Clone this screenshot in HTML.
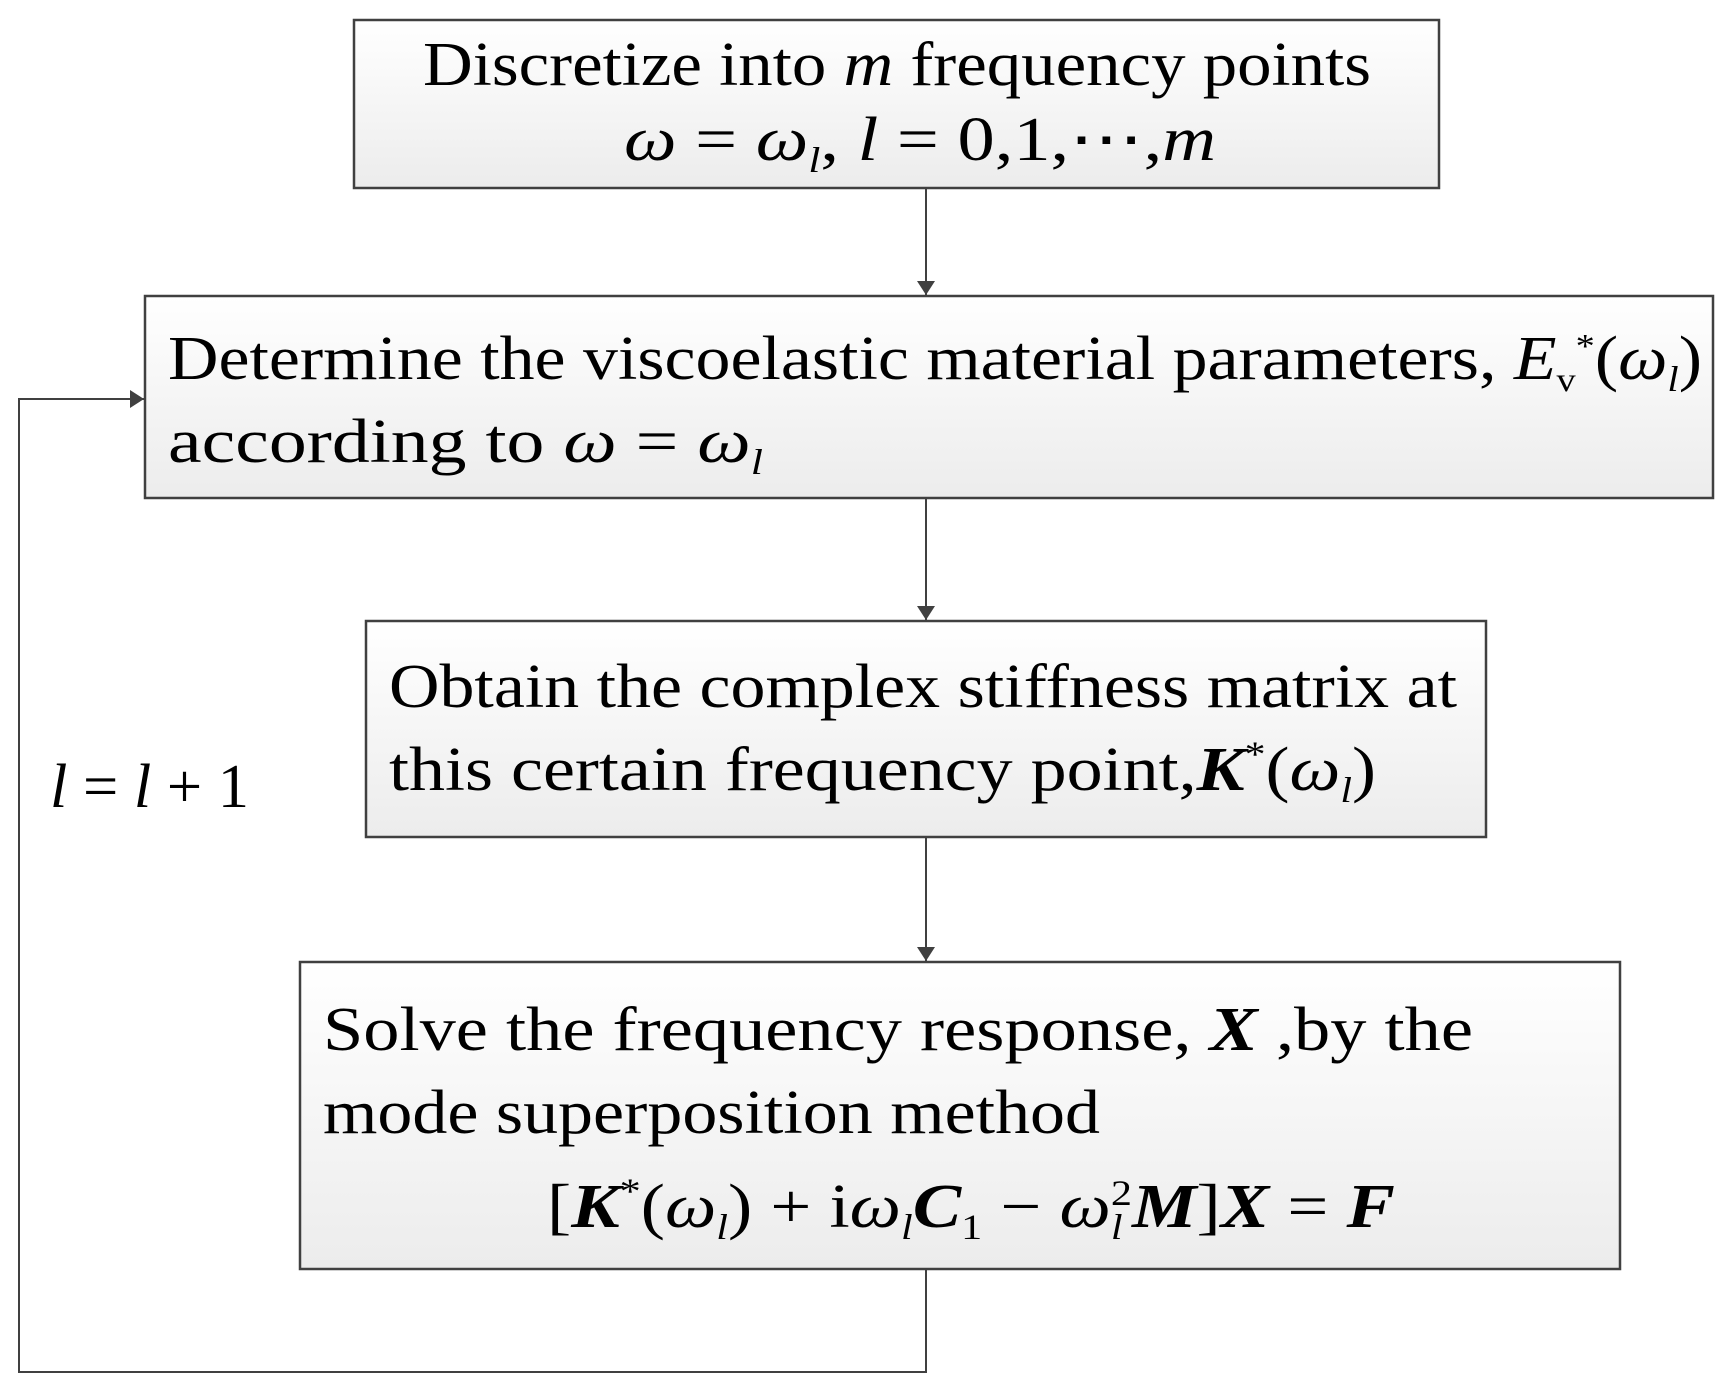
<!DOCTYPE html>
<html><head><meta charset="utf-8"><style>html,body{margin:0;padding:0;background:#fff}</style></head>
<body>
<svg width="1733" height="1389" viewBox="0 0 1733 1389" xmlns="http://www.w3.org/2000/svg" font-family="'Liberation Serif', serif" font-size="62" fill="#000">
<defs>
<linearGradient id="g" x1="0" y1="0" x2="0" y2="1"><stop offset="0" stop-color="#ffffff"/><stop offset="1" stop-color="#ececec"/></linearGradient>
<marker id="a" markerWidth="14" markerHeight="18" refX="14" refY="9" orient="auto" markerUnits="userSpaceOnUse"><path d="M0,0 L14,9 L0,18 z" fill="#404040"/></marker>
</defs>
<g stroke="#404040" stroke-width="2.5" fill="url(#g)">
<rect x="354" y="20" width="1085" height="168"/>
<rect x="145" y="296" width="1568" height="202"/>
<rect x="366" y="621" width="1120" height="216"/>
<rect x="300" y="962" width="1320" height="307"/>
</g>
<g stroke="#404040" stroke-width="2" fill="none">
<line x1="926" y1="188" x2="926" y2="295" marker-end="url(#a)"/>
<line x1="926" y1="498" x2="926" y2="620" marker-end="url(#a)"/>
<line x1="926" y1="837" x2="926" y2="961" marker-end="url(#a)"/>
<polyline points="926,1269 926,1372 19,1372 19,399 144,399" marker-end="url(#a)"/>
</g>
<text x="423" y="85" textLength="948" lengthAdjust="spacingAndGlyphs">Discretize into <tspan font-style="italic">m</tspan> frequency points</text>
<text x="624" y="160" textLength="592" lengthAdjust="spacingAndGlyphs"><tspan font-style="italic">ω</tspan> = <tspan font-style="italic">ω</tspan><tspan font-style="italic" font-size="36" dy="12">l</tspan><tspan dy="-12">,  </tspan><tspan font-style="italic">l</tspan> = 0,1,⋯,<tspan font-style="italic">m</tspan></text>
<text x="168" y="379" textLength="1534" lengthAdjust="spacingAndGlyphs">Determine the viscoelastic material parameters, <tspan font-style="italic">E</tspan><tspan font-size="34" dy="12">v</tspan><tspan font-size="34" dy="-34">*</tspan><tspan dy="22">(</tspan><tspan font-style="italic">ω</tspan><tspan font-style="italic" font-size="36" dy="12">l</tspan><tspan dy="-12">)</tspan></text>
<text x="168" y="462" textLength="595" lengthAdjust="spacingAndGlyphs">according  to <tspan font-style="italic">ω</tspan> = <tspan font-style="italic">ω</tspan><tspan font-style="italic" font-size="36" dy="12">l</tspan></text>
<text x="389" y="707" textLength="1068" lengthAdjust="spacingAndGlyphs">Obtain the complex stiffness matrix at</text>
<text x="389" y="790" textLength="987" lengthAdjust="spacingAndGlyphs">this certain frequency point,<tspan font-weight="bold" font-style="italic">K</tspan><tspan font-size="36" dy="-24">*</tspan><tspan dy="24">(</tspan><tspan font-style="italic">ω</tspan><tspan font-style="italic" font-size="36" dy="12">l</tspan><tspan dy="-12">)</tspan></text>
<text x="323" y="1050" textLength="1150" lengthAdjust="spacingAndGlyphs">Solve the frequency response, <tspan font-weight="bold" font-style="italic">X</tspan> ,by  the</text>
<text x="323" y="1133" textLength="777" lengthAdjust="spacingAndGlyphs">mode superposition method</text>
<text x="547" y="1227" textLength="848" lengthAdjust="spacingAndGlyphs">[<tspan font-weight="bold" font-style="italic">K</tspan><tspan font-size="36" dy="-24">*</tspan><tspan dy="24">(</tspan><tspan font-style="italic">ω</tspan><tspan font-style="italic" font-size="36" dy="12">l</tspan><tspan dy="-12">) + i</tspan><tspan font-style="italic">ω</tspan><tspan font-style="italic" font-size="36" dy="12">l</tspan><tspan dy="-12" font-weight="bold" font-style="italic">C</tspan><tspan font-size="36" dy="12">1</tspan><tspan dy="-12"> − </tspan><tspan font-style="italic">ω</tspan><tspan font-style="italic" font-size="36" dy="12">l</tspan><tspan font-size="36" dy="-34" dx="-10">2</tspan><tspan dy="22" font-weight="bold" font-style="italic">M</tspan>]<tspan font-weight="bold" font-style="italic">X</tspan> = <tspan font-weight="bold" font-style="italic">F</tspan></text>
<text x="50" y="807" textLength="199" lengthAdjust="spacingAndGlyphs"><tspan font-style="italic">l</tspan> = <tspan font-style="italic">l</tspan> + 1</text>
</svg>
</body></html>
